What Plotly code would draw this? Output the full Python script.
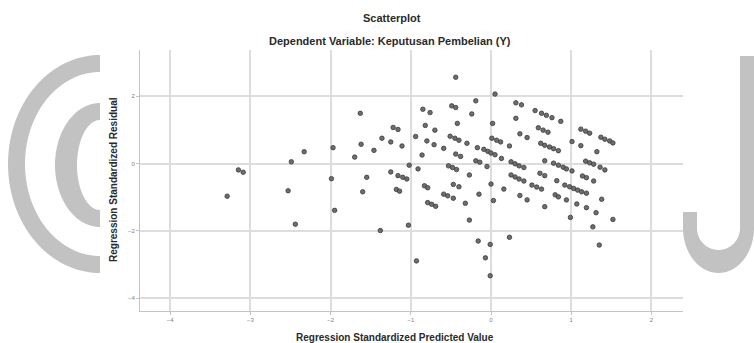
import numpy as np
import plotly.graph_objects as go

# Standardized predicted values (x) and standardized residuals (y)
pred = [
    -3.29, -3.15, -3.09, -2.49, -2.33, -2.53, -2.44, -1.97, -1.99, -1.95,
    -1.63, -1.62, -1.70, -1.55, -1.60, -1.46, -1.36, -1.25, -1.22, -1.16,
    -1.11, -1.25, -1.16, -1.10, -1.05, -1.18, -1.14, -1.02, -1.38, -1.03,
    -0.94, -0.91, -0.86, -0.93, -0.85, -0.76, -0.82, -0.80, -0.70, -0.71,
    -0.83, -0.79, -0.79, -0.74, -0.69,
    -0.44, 0.05, -0.19, -0.49, -0.44, -0.24, -0.42, -0.59, -0.51, -0.45,
    -0.40, -0.30, -0.44, -0.38, -0.53, -0.48, -0.43, -0.27, -0.47, -0.40,
    -0.59, -0.54, -0.47, -0.32, -0.27, -0.17, -0.19, -0.14, -0.09, -0.04,
    0.00, 0.05, -0.05, -0.15, 0.00, 0.02, 0.03, 0.01, 0.07, 0.12,
    0.23, 0.13, 0.16, -0.16, -0.01, -0.07, -0.01, 0.23, 0.31, 0.38,
    0.31, 0.36, 0.45, 0.25, 0.30, 0.35, 0.41, 0.25, 0.30, 0.35,
    0.41, 0.36, 0.45,
    0.55, 0.63, 0.69, 0.76, 0.87, 0.59, 0.65, 0.71, 0.62, 0.67,
    0.73, 0.78, 0.84, 0.67, 0.78, 0.84, 0.90, 0.94, 1.01, 0.51,
    0.57, 0.63, 0.61, 0.67, 0.82, 0.92, 0.98, 1.03, 1.08, 1.13,
    1.19, 0.80, 0.84, 0.67, 0.94, 1.07, 1.19, 1.31, 0.99, 1.27,
    1.35, 1.52, 1.38, 1.01, 1.12, 1.32, 1.12, 1.18, 1.23, 1.37,
    1.42, 1.48, 1.52, 1.18, 1.23, 1.28, 1.36, 1.42, 1.14, 1.19,
    1.28,
]
resid = [
    -0.97, -0.19, -0.26, 0.05, 0.35, -0.81, -1.80, 0.47, -0.45, -1.39,
    1.49, 0.57, 0.19, -0.41, -0.84, 0.39, 0.75, 0.64, 1.07, 1.01,
    0.52, -0.25, -0.36, -0.41, -0.46, -0.77, -0.82, -0.05, -1.99, -1.83,
    0.80, -0.16, 0.25, -2.89, 1.61, 1.51, 1.13, 0.67, 0.99, 0.56,
    -0.66, -0.72, -1.16, -1.21, -1.27,
    2.56, 2.06, 1.86, 1.71, 1.66, 1.47, 1.19, 0.45, 0.81, 0.75,
    0.69, 0.60, 0.28, 0.21, -0.07, -0.12, -0.18, -0.34, -0.62, -0.69,
    -0.91, -0.96, -1.03, -1.18, -1.68, 0.47, 0.08, 0.04, 0.42, 0.36,
    0.31, 0.26, -0.09, -0.91, -0.61, 1.19, -1.10, 0.75, 0.69, 0.64,
    0.52, 0.15, -0.76, -2.30, -2.40, -2.80, -3.33, -2.19, 1.80, 1.74,
    1.34, 0.88, 0.77, 0.05, -0.01, -0.07, -0.12, -0.34, -0.40, -0.46,
    -0.52, -0.95, -1.08,
    1.57, 1.49, 1.43, 1.36, 1.25, 1.06, 0.99, 0.93, 0.60, 0.54,
    0.49, 0.44, 0.38, 0.08, 0.01, -0.05, -0.11, -0.16, -0.22, -0.64,
    -0.70, -0.76, -0.29, -0.36, -0.51, -0.64, -0.69, -0.74, -0.79, -0.84,
    -0.88, -0.93, -0.99, -1.28, -1.08, -1.20, -1.31, -1.46, -1.60, -1.88,
    -2.42, -1.66, -1.06, 0.65, 0.53, 0.35, 1.02, 0.96, 0.90, 0.78,
    0.72, 0.67, 0.61, 0.07, 0.02, -0.02, -0.11, -0.19, -0.37, -0.42,
    -0.52,
]

x_ticks = [-4, -3, -2, -1, 0, 1, 2]
y_ticks = [-4, -2, 0, 2]

title_main = "Scatterplot"
title_sub = "Dependent Variable: Keputusan Pembelian (Y)"
x_title = "Regression Standardized Predicted Value"
y_title = "Regression Standardized Residual"

W, H = 754, 343
ML, MR, MT, MB = 140, 71, 50, 32
PW, PH = W - ML - MR, H - MT - MB


def fx(p):
    """pixel x -> paper x"""
    return (p - ML) / PW


def fy(p):
    """pixel y (from top) -> paper y"""
    return (H - MB - p) / PH


def path_from(points):
    pts = [f"{fx(a):.5f},{fy(b):.5f}" for a, b in points]
    return "M" + " L".join(pts) + " Z"


def half_ring(cx, cy, rxo, ryo, rxi, ryi, n=80):
    t = np.linspace(np.pi / 2, 3 * np.pi / 2, n)
    outer = [(cx + rxo * np.cos(a), cy - ryo * np.sin(a)) for a in t]
    inner = [(cx + rxi * np.cos(a), cy - ryi * np.sin(a)) for a in t[::-1]]
    return path_from(outer + inner)


def j_hook():
    pts = [(740, 56), (760, 56), (760, 228), (754, 228)]
    t = np.linspace(0, np.pi, 60)
    pts += [(718.5 + 35.5 * np.cos(a), 228 + 45 * np.sin(a)) for a in t]
    pts += [(683, 212), (697, 212), (697, 228)]
    pts += [(718.5 - 21.5 * np.cos(a), 228 + 22 * np.sin(a)) for a in t]
    pts += [(740, 228)]
    return path_from(pts)


logo_color = "#c2c2c2"
shapes = [
    dict(type="path", xref="paper", yref="paper", path=half_ring(100, 164, 92, 109, 75, 92),
         fillcolor=logo_color, line=dict(width=0), layer="above"),
    dict(type="path", xref="paper", yref="paper", path=half_ring(100, 165, 45, 62, 23, 45),
         fillcolor=logo_color, line=dict(width=0), layer="above"),
    dict(type="path", xref="paper", yref="paper", path=j_hook(),
         fillcolor=logo_color, line=dict(width=0), layer="above"),
]

fig = go.Figure(
    go.Scatter(
        x=pred, y=resid, mode="markers",
        marker=dict(size=4.5, color="#6e6e6e", line=dict(color="#383838", width=0.8)),
        hoverinfo="skip",
    )
)

font_name = "Liberation Sans"
title_font = dict(family=font_name, size=11, color="#2a2a2a")
axis_title_font = dict(family=font_name, size=10, color="#2a2a2a")
annotations = [
    dict(text=f"<b>{title_main}</b>", x=fx(392), y=fy(18), xref="paper", yref="paper",
         showarrow=False, font=title_font, xanchor="center", yanchor="middle"),
    dict(text=f"<b>{title_sub}</b>", x=fx(390), y=fy(41), xref="paper", yref="paper",
         showarrow=False, font=title_font, xanchor="center", yanchor="middle"),
    dict(text=f"<b>{x_title}</b>", x=fx(395), y=fy(337), xref="paper", yref="paper",
         showarrow=False, font=axis_title_font, xanchor="center", yanchor="middle"),
    dict(text=f"<b>{y_title}</b>", x=fx(113), y=fy(180), xref="paper", yref="paper",
         showarrow=False, font=axis_title_font, textangle=-90, xanchor="center", yanchor="middle"),
]

grid = "#dddddd"
axis_common = dict(
    showgrid=True, gridcolor=grid, gridwidth=1.5, zeroline=False,
    showline=True, linecolor="#c4c4c4", linewidth=1,
    ticks="outside", ticklen=3, tickcolor="#c4c4c4",
    tickfont=dict(family=font_name, size=6, color="#808080"),
    fixedrange=True,
)

fig.update_layout(
    width=W, height=H,
    margin=dict(l=ML, r=MR, t=MT, b=MB),
    paper_bgcolor="white", plot_bgcolor="white",
    showlegend=False,
    xaxis=dict(range=[-4.377, 2.394], tickvals=x_ticks, **axis_common),
    yaxis=dict(range=[-4.377, 3.368], tickvals=y_ticks, **axis_common),
    shapes=shapes,
    annotations=annotations,
)

fig.write_html("out.html")
